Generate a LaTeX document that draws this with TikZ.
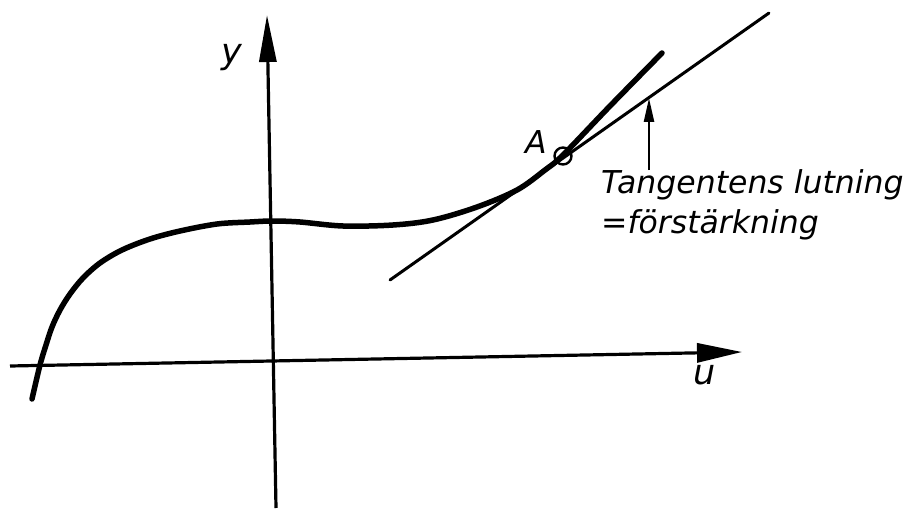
\documentclass[tikz,border=0pt]{standalone}
\usepackage{fontspec}
\newfontfamily\isofont{DejaVu Sans}
\usetikzlibrary{arrows.meta}
\tikzset{
  axis/.style={line width=3.2pt},
  curveline/.style={line width=5.5pt, line cap=round},
  tangentline/.style={line width=3pt, line cap=round},
  pointer/.style={line width=2.4pt, -{Triangle[length=24pt,width=10pt]}},
  lab/.style={inner sep=0pt, font=\isofont\itshape\fontsize{31.5}{40}\selectfont},
  biglab/.style={inner sep=0pt, font=\isofont\itshape\fontsize{35}{40}\selectfont},
}
\begin{document}
\begin{tikzpicture}[x=1pt,y=-1pt]
\useasboundingbox (0,0) rectangle (914,511);
% axes
\coordinate (ytop) at (267,15);
\coordinate (ybot) at (276,508);
\coordinate (xl) at (10,366);
\coordinate (xr) at (742,352);
\draw[axis, -{Triangle[length=47pt,width=17pt]}] (ybot) -- (ytop);
\draw[axis, -{Triangle[length=45pt,width=19pt]}] (xl) -- (xr);
\node[biglab] (ylab) at (232,58) {y};
\node[biglab] (ulab) at (705,375) {u};
% curve
\draw[curveline] plot[smooth, tension=0.55] coordinates {
 (32,399) (40,365) (46,345) (52,327) (60,310) (70,294) (83,278) (100,263)
 (122,250) (150,239) (180,231) (217,224) (250,222) (272,221) (300,222)
 (343,226) (393,225) (433,220) (477,207) (517,190) (545,170) (563,155)
 (610,106) (662,53)};
% tangent
\coordinate (t1) at (390,280);
\coordinate (t2) at (769,13);
\draw[tangentline] (t1) -- (t2);
\node[circle, draw, line width=2.4pt, minimum size=17pt, inner sep=0pt] (A) at (563,156) {};
\node[lab] (Alab) at (536,142) {A};
% pointer
\coordinate (ptail) at (649,170);
\coordinate (ptip) at (649,98);
\draw[pointer] (ptail) -- (ptip);
\node[lab, anchor=base west] (txt1) at (601,193) {Tangentens\hspace{10pt}lutning};
\node[lab, anchor=base west] (txt2) at (601,233) {=förstärkning};
\end{tikzpicture}
\end{document}
